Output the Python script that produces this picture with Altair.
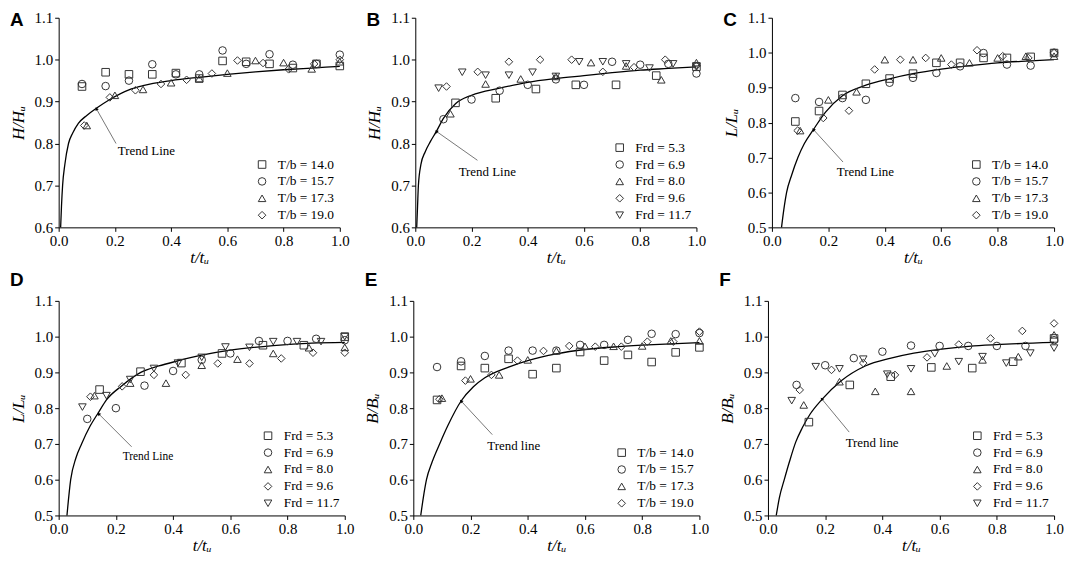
import altair as alt
import pandas as pd

# ---------------- tick labels ----------------
X_TICKS = [0.0, 0.2, 0.4, 0.6, 0.8, 1.0]
Y_TICKS_H = [0.6, 0.7, 0.8, 0.9, 1.0, 1.1]
Y_TICKS_L = [0.5, 0.6, 0.7, 0.8, 0.9, 1.0, 1.1]

# ---------------- series x positions (t/tu) ----------------
T7 = [0.143, 0.286, 0.429, 0.571, 0.714, 0.857, 1.0]
T8 = [0.125, 0.25, 0.375, 0.5, 0.625, 0.75, 0.875, 1.0]
T9 = [0.111, 0.222, 0.333, 0.444, 0.556, 0.667, 0.778, 0.889, 1.0]
T10 = [0.1, 0.2, 0.3, 0.4, 0.5, 0.6, 0.7, 0.8, 0.9, 1.0]
T11 = [0.091, 0.182, 0.273, 0.364, 0.455, 0.545, 0.636, 0.727, 0.818, 0.909, 1.0]
T12 = [0.083, 0.167, 0.25, 0.333, 0.417, 0.5, 0.583, 0.667, 0.75, 0.833, 0.917, 1.0]

# ---------------- categories ----------------
TB_LABELS = ["T/b = 14.0", "T/b = 15.7", "T/b = 17.3", "T/b = 19.0"]
FR_LABELS = ["Frd = 5.3", "Frd = 6.9", "Frd = 8.0", "Frd = 9.6", "Frd = 11.7"]
TB_SHAPES = ["square", "circle", "triangle-up", "diamond"]
FR_SHAPES = ["square", "circle", "triangle-up", "diamond", "triangle-down"]
TB_X = [T12, T12, T10, T11]
FR_X = [T7, T10, T8, T9, T12]

# ---------------- panel A : H/Hu vs T/b ----------------
A_140 = [0.936, 0.97, 0.965, 0.965, 0.968, 0.955, 0.997, 0.995, 0.99, 0.98, 0.99, 0.985]
A_157 = [0.942, 0.937, 0.95, 0.989, 0.965, 0.965, 1.022, 0.99, 1.013, 0.988, 0.99, 1.012]
A_173 = [0.843, 0.915, 0.929, 0.945, 0.955, 0.968, 0.998, 0.993, 0.978, 0.995]
A_190 = [0.843, 0.91, 0.927, 0.942, 0.952, 0.967, 0.998, 0.992, 0.977, 0.99, 1.0]
A_TREND_T = [0.007, 0.01, 0.014, 0.022, 0.035, 0.05, 0.07, 0.1, 0.134, 0.182, 0.25, 0.3, 0.4, 0.5, 0.6, 0.7, 0.8, 0.9, 1.0]
A_TREND_V = [0.6, 0.65, 0.7, 0.75, 0.8, 0.825, 0.848, 0.867, 0.884, 0.905, 0.928, 0.938, 0.95, 0.958, 0.965, 0.971, 0.976, 0.98, 0.984]

# ---------------- panel B : H/Hu vs Frd ----------------
B_53 = [0.897, 0.908, 0.93, 0.94, 0.94, 0.962, 0.983]
B_69 = [0.858, 0.905, 0.926, 0.94, 0.953, 0.94, 0.995, 0.988, 0.99, 0.967]
B_80 = [0.871, 0.942, 0.954, 0.96, 0.993, 0.985, 0.952, 0.993]
B_96 = [0.936, 0.971, 0.995, 1.0, 1.0, 0.971, 0.982, 1.0, 0.985]
B_117 = [0.932, 0.97, 0.963, 0.963, 0.97, 0.96, 0.995, 0.995, 0.99, 0.98, 0.99, 0.985]
B_TREND_T = [0.005, 0.008, 0.011, 0.02, 0.035, 0.054, 0.075, 0.1, 0.143, 0.2, 0.3, 0.4, 0.5, 0.6, 0.7, 0.8, 0.9, 1.0]
B_TREND_V = [0.6, 0.65, 0.7, 0.75, 0.78, 0.805, 0.829, 0.86, 0.895, 0.915, 0.932, 0.946, 0.955, 0.962, 0.969, 0.975, 0.979, 0.983]

# ---------------- panel C : L/Lu vs T/b ----------------
C_140 = [0.803, 0.833, 0.879, 0.911, 0.926, 0.94, 0.971, 0.971, 0.985, 0.985, 0.988, 0.999]
C_157 = [0.87, 0.859, 0.87, 0.865, 0.914, 0.928, 0.942, 0.961, 0.999, 0.966, 0.963, 1.0]
C_173 = [0.777, 0.865, 0.888, 0.98, 0.98, 0.985, 0.971, 0.985, 0.99, 0.99]
C_190 = [0.777, 0.813, 0.834, 0.952, 0.98, 0.985, 0.966, 1.007, 0.99, 0.985, 0.999]
C_TREND_T = [0.034, 0.042, 0.052, 0.07, 0.092, 0.115, 0.147, 0.19, 0.25, 0.333, 0.42, 0.5, 0.6, 0.7, 0.8, 0.9, 1.0]
C_TREND_V = [0.5, 0.55, 0.6, 0.65, 0.7, 0.74, 0.78, 0.83, 0.877, 0.907, 0.926, 0.94, 0.953, 0.963, 0.971, 0.976, 0.98]

# ---------------- panel D : L/Lu vs Frd ----------------
D_53 = [0.852, 0.902, 0.926, 0.953, 0.976, 0.976, 1.0]
D_69 = [0.77, 0.80, 0.863, 0.904, 0.935, 0.953, 0.988, 0.988, 0.994, 0.99]
D_80 = [0.835, 0.87, 0.87, 0.92, 0.937, 0.953, 0.969, 0.97]
D_96 = [0.832, 0.861, 0.893, 0.893, 0.925, 0.925, 0.939, 0.955, 0.955]
D_117 = [0.803, 0.835, 0.88, 0.911, 0.926, 0.942, 0.971, 0.97, 0.986, 0.986, 0.986, 1.0]
D_TREND_T = [0.029, 0.042, 0.06, 0.08, 0.11, 0.14, 0.167, 0.22, 0.287, 0.35, 0.416, 0.5, 0.6, 0.75, 0.885, 1.0]
D_TREND_V = [0.5, 0.6, 0.66, 0.70, 0.75, 0.789, 0.823, 0.862, 0.9, 0.918, 0.932, 0.948, 0.962, 0.975, 0.982, 0.984]

# ---------------- panel E : B/Bu vs T/b ----------------
E_140 = [0.823, 0.918, 0.912, 0.938, 0.895, 0.912, 0.957, 0.933, 0.949, 0.929, 0.956, 0.97]
E_157 = [0.915, 0.931, 0.946, 0.961, 0.961, 0.961, 0.977, 0.977, 0.991, 1.008, 1.007, 1.01]
E_173 = [0.828, 0.882, 0.893, 0.935, 0.96, 0.973, 0.973, 0.974, 0.988, 0.988]
E_190 = [0.825, 0.877, 0.893, 0.933, 0.96, 0.974, 0.972, 0.972, 0.986, 0.986, 1.014]
E_TREND_T = [0.026, 0.035, 0.046, 0.066, 0.092, 0.12, 0.167, 0.21, 0.25, 0.333, 0.4, 0.5, 0.6, 0.7, 0.8, 0.9, 1.0]
E_TREND_V = [0.5, 0.55, 0.6, 0.65, 0.7, 0.75, 0.82, 0.86, 0.885, 0.915, 0.933, 0.952, 0.964, 0.971, 0.976, 0.98, 0.983]

# ---------------- panel F : B/Bu vs Frd ----------------
F_53 = [0.761, 0.865, 0.888, 0.914, 0.912, 0.93, 0.995]
F_69 = [0.865, 0.92, 0.94, 0.958, 0.975, 0.974, 0.974, 0.974, 0.974, 0.99]
F_80 = [0.809, 0.874, 0.847, 0.847, 0.918, 0.935, 0.944, 1.005]
F_96 = [0.851, 0.907, 0.926, 0.893, 0.942, 0.978, 0.995, 1.016, 1.037]
F_117 = [0.821, 0.916, 0.91, 0.937, 0.895, 0.91, 0.952, 0.93, 0.944, 0.926, 0.954, 0.968]
F_TREND_T = [0.029, 0.04, 0.057, 0.075, 0.097, 0.12, 0.147, 0.187, 0.255, 0.34, 0.43, 0.51, 0.607, 0.72, 0.834, 1.0]
F_TREND_V = [0.5, 0.55, 0.6, 0.65, 0.705, 0.745, 0.783, 0.823, 0.876, 0.918, 0.94, 0.954, 0.965, 0.974, 0.979, 0.984]

# annotation: label text, label centre (t, v), arrow tail (t, v), arrow head (t, v)
ANN_A = ("Trend Line", 0.312, 0.782, 0.204, 0.80, 0.134, 0.883)
ANN_B = ("Trend Line", 0.256, 0.731, 0.221, 0.76, 0.075, 0.829)
ANN_C = ("Trend Line", 0.331, 0.659, 0.252, 0.687, 0.147, 0.78)
ANN_D = ("Trend Line", 0.312, 0.662, 0.255, 0.692, 0.14, 0.784)
ANN_E = ("Trend line", 0.351, 0.693, 0.276, 0.726, 0.167, 0.82)
ANN_F = ("Trend line", 0.364, 0.702, 0.284, 0.733, 0.188, 0.826)

SERIF = "Liberation Serif"
SANS = "Liberation Sans"
INK = "#333333"


def panel(letter, title_offset, ytitle, ydom, yticks, labels, shapes, xs_list, ys_list,
          trend_t, trend_v, ann, ann_size, head_angle, w, h):
    rows = []
    for lab, xs, ys in zip(labels, xs_list, ys_list):
        for t, v in zip(xs, ys):
            rows.append({"t": t, "v": v, "s": lab})
    pts = pd.DataFrame(rows)
    trend = pd.DataFrame({"t": trend_t, "v": trend_v})
    txt, lt, lv, at, av, ht, hv = ann
    lab_df = pd.DataFrame({"t": [lt], "v": [lv], "txt": [txt]})
    arr_df = pd.DataFrame({"t": [at], "v": [av], "t2": [ht], "v2": [hv]})
    head_df = pd.DataFrame({"t": [ht], "v": [hv]})

    xaxis = alt.Axis(values=X_TICKS, tickCount=len(X_TICKS), format=".1f", title="t/tᵤ",
                     labelFlush=False, labelOverlap=False)
    yaxis = alt.Axis(values=yticks, tickCount=len(yticks), format=".1f", title=ytitle,
                     labelOverlap=False)
    xs = alt.Scale(domain=[0, 1], nice=False)
    ys = alt.Scale(domain=ydom, nice=False)

    line = alt.Chart(trend).mark_line(color="black", strokeWidth=1.3, interpolate="monotone").encode(
        x=alt.X("t:Q", scale=xs, axis=xaxis),
        y=alt.Y("v:Q", scale=ys, axis=yaxis),
    )
    points = alt.Chart(pts).mark_point(filled=False, size=58, strokeWidth=1, color=INK, opacity=1).encode(
        x=alt.X("t:Q", scale=xs),
        y=alt.Y("v:Q", scale=ys),
        shape=alt.Shape(
            "s:N",
            scale=alt.Scale(domain=labels, range=shapes),
            title=None,
            legend=alt.Legend(
                orient="bottom-right", offset=5, padding=0,
                labelFont=SERIF, labelFontSize=13.5, labelColor="black",
                labelOffset=9, rowPadding=2, symbolSize=58,
                symbolStrokeColor=INK, symbolStrokeWidth=1, labelLimit=200,
            ),
        ),
    )
    arrow = alt.Chart(arr_df).mark_rule(color="#777777", strokeWidth=1).encode(
        x=alt.X("t:Q", scale=xs), y=alt.Y("v:Q", scale=ys), x2="t2:Q", y2="v2:Q"
    )
    head = alt.Chart(head_df).mark_point(shape="triangle-up", filled=True, color="black",
                                         size=14, angle=head_angle, opacity=1).encode(
        x=alt.X("t:Q", scale=xs), y=alt.Y("v:Q", scale=ys)
    )
    label = alt.Chart(lab_df).mark_text(font=SERIF, fontSize=ann_size, color="black").encode(
        x=alt.X("t:Q", scale=xs), y=alt.Y("v:Q", scale=ys), text="txt:N"
    )
    return alt.layer(line, points, arrow, head, label).properties(
        width=w, height=h,
        title=alt.TitleParams(letter, anchor="start", frame="group", dx=-49, font=SANS,
                              fontSize=19, fontWeight="bold", color="black",
                              baseline="alphabetic", offset=title_offset),
    )


pA = panel("A", -34, "H/Hᵤ", [0.6, 1.1], Y_TICKS_H, TB_LABELS, TB_SHAPES, TB_X,
           [A_140, A_157, A_173, A_190], A_TREND_T, A_TREND_V, ANN_A, 13, 330, 283, 211)
pB = panel("B", -34, "H/Hᵤ", [0.6, 1.1], Y_TICKS_H, FR_LABELS, FR_SHAPES, FR_X,
           [B_53, B_69, B_80, B_96, B_117], B_TREND_T, B_TREND_V, ANN_B, 13, 305, 283, 211)
pC = panel("C", -34, "L/Lᵤ", [0.5, 1.1], Y_TICKS_L, TB_LABELS, TB_SHAPES, TB_X,
           [C_140, C_157, C_173, C_190], C_TREND_T, C_TREND_V, ANN_C, 13, 318, 284, 211)
pD = panel("D", -11, "L/Lᵤ", [0.5, 1.1], Y_TICKS_L, FR_LABELS, FR_SHAPES, FR_X,
           [D_53, D_69, D_80, D_96, D_117], D_TREND_T, D_TREND_V, ANN_D, 11.5, 315, 288, 216)
pE = panel("E", -11, "B/Bᵤ", [0.5, 1.1], Y_TICKS_L, TB_LABELS, TB_SHAPES, TB_X,
           [E_140, E_157, E_173, E_190], E_TREND_T, E_TREND_V, ANN_E, 13, 317, 288, 216)
pF = panel("F", -11, "B/Bᵤ", [0.5, 1.1], Y_TICKS_L, FR_LABELS, FR_SHAPES, FR_X,
           [F_53, F_69, F_80, F_96, F_117], F_TREND_T, F_TREND_V, ANN_F, 13, 320, 288, 216)

row1 = (alt.hconcat(pA, pB, pC, spacing=15)
        .resolve_scale(shape="independent")
        .resolve_legend(shape="independent"))
row2 = (alt.hconcat(pD, pE, pF, spacing=8)
        .resolve_scale(shape="independent")
        .resolve_legend(shape="independent"))

chart = (
    alt.vconcat(row1, row2, spacing=4)
    .resolve_scale(shape="independent")
    .resolve_legend(shape="independent")
    .properties(padding={"left": 0, "top": 0, "right": 0, "bottom": 0}, background="white")
    .configure_view(stroke="transparent")
    .configure_axis(
        grid=False, domainColor="black", domainWidth=1, tickColor="black", tickSize=4,
        labelFont=SERIF, labelFontSize=15, labelColor="black", labelPadding=2,
        titleFont=SERIF, titleFontSize=17, titleFontStyle="italic", titleFontWeight="normal",
        titleColor="black",
    )
    .configure_axisY(titlePadding=7)
    .configure_axisX(titlePadding=1)
)

chart.save("out.html", embed_options={"renderer": "svg", "actions": False})
